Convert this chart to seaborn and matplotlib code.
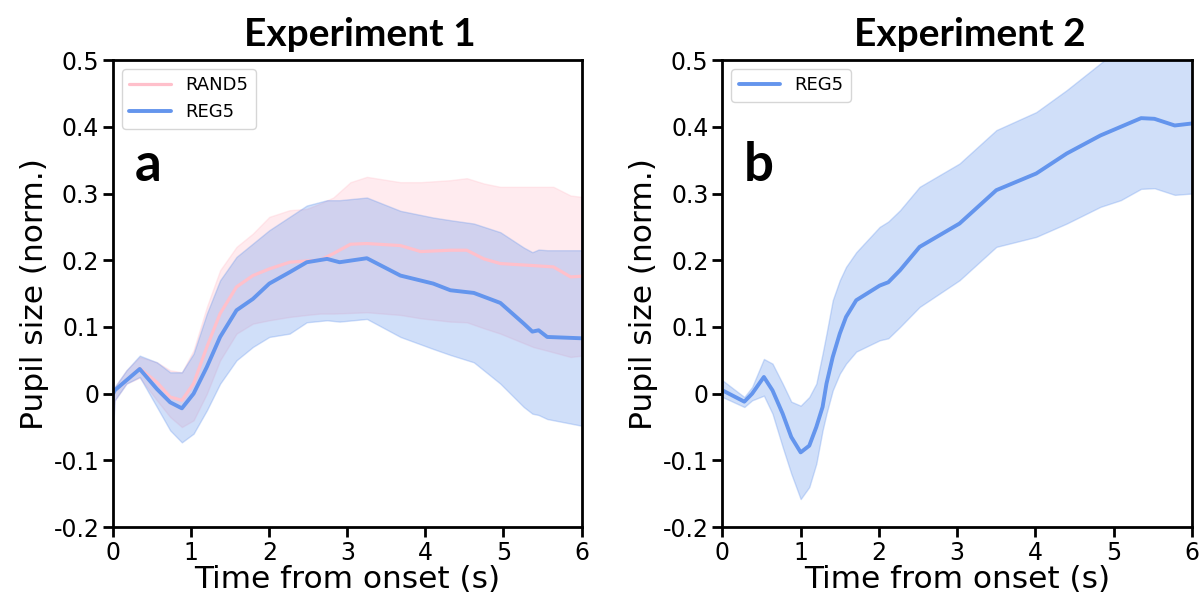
import numpy as np
import pandas as pd
import matplotlib
matplotlib.use('Agg')
import matplotlib.pyplot as plt
import seaborn as sns

# Experiment 1 - REG5 (mean and band edges)
t1_reg = [0.0, 0.02, 0.17, 0.34, 0.56, 0.73, 0.88, 1.03, 1.2, 1.37, 1.58, 1.79, 2.0, 2.26, 2.48,
          2.74, 2.9, 3.25, 3.68, 4.1, 4.32, 4.62, 4.96, 5.26, 5.37, 5.45, 5.56, 6.0]
reg1_mean = [0.0, 0.005, 0.02, 0.037, 0.007, -0.013, -0.022, 0.0, 0.04, 0.085, 0.125, 0.142, 0.165, 0.182,
             0.197, 0.202, 0.197, 0.203, 0.177, 0.165, 0.155, 0.151, 0.136, 0.105, 0.093, 0.095, 0.085, 0.083]
reg1_hi = [0.0, 0.01, 0.035, 0.057, 0.047, 0.032, 0.032, 0.06, 0.12, 0.17, 0.205, 0.225, 0.245, 0.265,
           0.282, 0.29, 0.29, 0.294, 0.274, 0.264, 0.26, 0.255, 0.242, 0.219, 0.212, 0.216, 0.215, 0.215]
reg1_lo = [-0.05, -0.01, 0.015, 0.025, -0.02, -0.055, -0.073, -0.06, -0.025, 0.015, 0.05, 0.07, 0.085,
           0.09, 0.107, 0.11, 0.108, 0.112, 0.085, 0.067, 0.058, 0.047, 0.015, -0.02, -0.03, -0.032, -0.038, -0.048]

# Experiment 1 - RAND5
t1_rand = [0.0, 0.02, 0.17, 0.34, 0.56, 0.73, 0.88, 1.03, 1.2, 1.37, 1.58, 1.79, 2.0, 2.26, 2.48,
           2.65, 2.82, 3.04, 3.25, 3.68, 3.94, 4.32, 4.53, 4.75, 4.96, 5.38, 5.64, 5.86, 6.0]
rand_mean = [0.0, 0.005, 0.02, 0.038, 0.017, -0.005, -0.01, 0.015, 0.07, 0.12, 0.16, 0.177, 0.187, 0.197,
             0.199, 0.2, 0.21, 0.224, 0.225, 0.222, 0.213, 0.215, 0.215, 0.202, 0.195, 0.192, 0.19, 0.175, 0.176]
rand_hi = [0.0, 0.01, 0.035, 0.055, 0.047, 0.035, 0.032, 0.065, 0.13, 0.185, 0.22, 0.24, 0.265, 0.275,
           0.277, 0.285, 0.294, 0.317, 0.325, 0.317, 0.317, 0.32, 0.323, 0.315, 0.31, 0.31, 0.31, 0.297, 0.295]
rand_lo = [-0.04, -0.01, 0.015, 0.024, -0.01, -0.035, -0.05, -0.04, 0.0, 0.05, 0.09, 0.105, 0.11, 0.115,
           0.118, 0.12, 0.12, 0.121, 0.122, 0.118, 0.113, 0.108, 0.107, 0.098, 0.09, 0.07, 0.062, 0.055, 0.057]

# Experiment 2 - REG5
t2 = [0.0, 0.28, 0.38, 0.53, 0.64, 0.77, 0.88, 1.0, 1.11, 1.2, 1.28, 1.33, 1.41, 1.5, 1.58, 1.71, 2.01,
      2.12, 2.27, 2.52, 3.03, 3.5, 4.01, 4.4, 4.83, 5.09, 5.35, 5.52, 5.78, 6.0]
reg2_mean = [0.005, -0.012, 0.0, 0.025, 0.005, -0.03, -0.065, -0.088, -0.078, -0.05, -0.02, 0.015, 0.055,
             0.09, 0.115, 0.14, 0.162, 0.167, 0.185, 0.22, 0.255, 0.305, 0.33, 0.36, 0.387, 0.40, 0.413,
             0.412, 0.402, 0.405]
reg2_hi = [0.02, -0.005, 0.01, 0.052, 0.045, 0.015, -0.012, -0.018, -0.005, 0.015, 0.06, 0.09, 0.14, 0.17,
           0.19, 0.212, 0.25, 0.258, 0.275, 0.31, 0.345, 0.395, 0.422, 0.455, 0.495, 0.52, 0.545, 0.56,
           0.575, 0.585]
reg2_lo = [-0.005, -0.02, -0.01, -0.003, -0.03, -0.08, -0.12, -0.158, -0.14, -0.105, -0.055, -0.03, 0.005,
           0.03, 0.045, 0.063, 0.08, 0.083, 0.1, 0.13, 0.17, 0.22, 0.235, 0.255, 0.28, 0.29, 0.307, 0.308,
           0.298, 0.3]

x_ticks = [0, 1, 2, 3, 4, 5, 6]
y_ticks = [-0.2, -0.1, 0, 0.1, 0.2, 0.3, 0.4, 0.5]
y_ticklabels = ['-0.2', '-0.1', '0', '0.1', '0.2', '0.3', '0.4', '0.5']

blue = 'cornflowerblue'
pink = 'pink'

sns.set_style('ticks')
plt.rcParams['font.family'] = 'DejaVu Sans'
plt.rcParams['axes.unicode_minus'] = False
plt.rcParams['text.color'] = 'black'
plt.rcParams['axes.labelcolor'] = 'black'
plt.rcParams['axes.edgecolor'] = 'black'
plt.rcParams['xtick.color'] = 'black'
plt.rcParams['ytick.color'] = 'black'

fig = plt.figure(figsize=(12.04, 6.01), dpi=100)
ax1 = fig.add_axes([0.094, 0.123, 0.389, 0.777])
ax2 = fig.add_axes([0.600, 0.123, 0.390, 0.777])

# panel a
ax1.fill_between(t1_rand, rand_lo, rand_hi, color=pink, alpha=0.3, lw=1)
ax1.fill_between(t1_reg, reg1_lo, reg1_hi, color=blue, alpha=0.3, lw=1)
df_rand = pd.DataFrame({'t': t1_rand, 'y': rand_mean})
df_reg1 = pd.DataFrame({'t': t1_reg, 'y': reg1_mean})
sns.lineplot(data=df_rand, x='t', y='y', ax=ax1, color=pink, lw=2.3, label='RAND5')
sns.lineplot(data=df_reg1, x='t', y='y', ax=ax1, color=blue, lw=2.8, label='REG5')

# panel b
ax2.fill_between(t2, reg2_lo, reg2_hi, color=blue, alpha=0.3, lw=1)
df_reg2 = pd.DataFrame({'t': t2, 'y': reg2_mean})
sns.lineplot(data=df_reg2, x='t', y='y', ax=ax2, color=blue, lw=2.8, label='REG5')

for ax, title, letter in [(ax1, 'Experiment 1', 'a'), (ax2, 'Experiment 2', 'b')]:
    ax.set_xlim(0, 6)
    ax.set_ylim(-0.2, 0.5)
    ax.set_xticks(x_ticks)
    ax.set_yticks(y_ticks)
    ax.set_yticklabels(y_ticklabels)
    ax.tick_params(labelsize=17, width=2, length=7, pad=3)
    for sp in ax.spines.values():
        sp.set_linewidth(2)
    ax.set_xlabel('Time from onset (s)', fontsize=22.5, labelpad=0)
    ax.set_ylabel('Pupil size (norm.)', fontsize=22.5, labelpad=3)
    ax.set_title(title, fontsize=28, fontweight='bold', family='Lato', pad=10, x=0.527)
    ax.text(0.045, 0.775, letter, transform=ax.transAxes, fontsize=38, fontweight='bold',
            family='Lato', va='center', ha='left')
    ax.legend(loc='upper left', fontsize=13, handlelength=2.3)

fig.savefig('out.png', dpi=100)
